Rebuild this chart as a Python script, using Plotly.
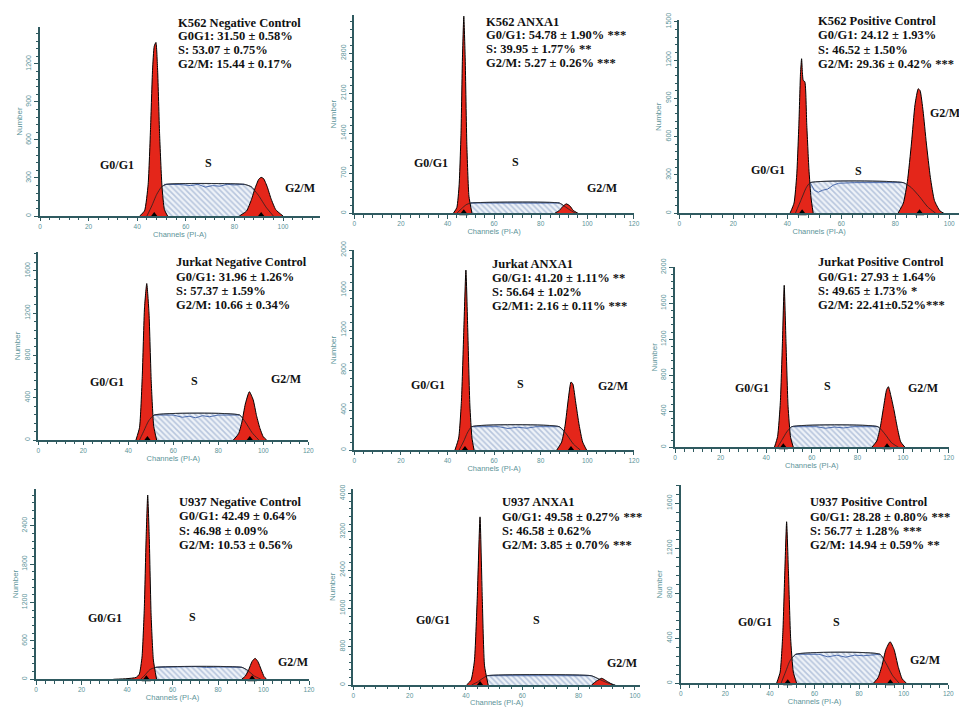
import plotly.graph_objects as go

W, H = 959, 707

# ---------------- data ----------------
PANEL_TEXT = [
    ["K562 Negative Control", "G0G1: 31.50 ± 0.58%", "S: 53.07 ± 0.75%", "G2/M: 15.44 ± 0.17%"],
    ["K562 ANXA1", "G0/G1: 54.78 ± 1.90% ***", "S: 39.95 ± 1.77% **", "G2/M: 5.27 ± 0.26% ***"],
    ["K562 Positive Control", "G0/G1: 24.12 ± 1.93%", "S: 46.52 ± 1.50%", "G2/M: 29.36 ± 0.42% ***"],
    ["Jurkat Negative Control", "G0/G1: 31.96 ± 1.26%", "S: 57.37 ± 1.59%", "G2/M: 10.66 ± 0.34%"],
    ["Jurkat ANXA1", "G0/G1: 41.20 ± 1.11% **", "S: 56.64 ± 1.02%", "G2/M1: 2.16 ± 0.11% ***"],
    ["Jurkat Positive Control", "G0/G1: 27.93 ± 1.64%", "S: 49.65 ± 1.73% *", "G2/M: 22.41±0.52%***"],
    ["U937 Negative Control", "G0/G1: 42.49 ± 0.64%", "S: 46.98 ± 0.09%", "G2/M: 10.53 ± 0.56%"],
    ["U937 ANXA1", "G0/G1: 49.58 ± 0.27% ***", "S: 46.58 ± 0.62%", "G2/M: 3.85 ± 0.70% ***"],
    ["U937 Positive Control", "G0/G1: 28.28 ± 0.80% ***", "S: 56.77 ± 1.28% ***", "G2/M: 14.94 ± 0.59% **"],
]
PHASE_LABELS = ["G0/G1", "S", "G2/M"]

G1_X = [
    [41, 43, 44.5, 45.5, 46.3, 47, 47.7, 48.4, 49.2, 50.2, 51.2, 52.5],
    [42.5, 44, 45, 45.8, 46.4, 47, 47.6, 48.3, 49.2, 50.5],
    [41, 42.5, 43.5, 44.3, 44.9, 45.3, 45.6, 45.9, 46.5, 47.2, 48, 48.8, 49.6],
    [43.4, 45, 46.2, 47.2, 48.2, 49.2, 50.2, 51.3, 52.6],
    [43.2, 44.8, 46, 47, 47.9, 48.7, 49.6, 50.5, 51.4],
    [43.6, 45, 46.2, 47.1, 47.9, 48.7, 49.6, 50.7, 51.9],
    [34, 40, 44, 45.4, 46.6, 47.6, 48.4, 49.1, 49.8, 50.6, 51.6, 53],
    [40.2, 41.8, 43, 44, 45, 45.8, 46.6, 47.9],
    [43, 44.6, 45.8, 46.7, 47.5, 48.3, 49.3, 50.5, 52],
]
G1_Y = [
    [0, 40, 250, 700, 1150, 1340, 1370, 1150, 650, 230, 50, 0],
    [0, 100, 500, 1400, 2700, 3450, 2700, 1200, 300, 0],
    [0, 80, 300, 700, 1100, 1210, 1100, 1040, 1030, 700, 350, 120, 0],
    [0, 120, 600, 1250, 1480, 1200, 550, 130, 0],
    [0, 120, 500, 1200, 1800, 1200, 450, 120, 0],
    [0, 120, 500, 1150, 1800, 1150, 450, 110, 0],
    [0, 10, 30, 80, 350, 1100, 2200, 2880, 2200, 1000, 300, 0],
    [0, 100, 500, 1800, 3510, 1800, 400, 0],
    [0, 100, 450, 1000, 1436, 1000, 400, 100, 0],
]
S_X = [
    [44, 46, 48, 50, 52, 84, 87, 90, 93, 96],
    [44, 46, 48, 50, 88, 90, 92.5, 95],
    [43, 45, 47, 48.5, 83, 86, 89, 92, 95],
    [45, 47, 49, 51.5, 89.5, 92, 95, 98],
    [45, 47, 48.5, 50.4, 88, 91, 94, 97],
    [45, 47, 49, 51.2, 89, 92, 95, 98],
    [46, 48, 50, 52.7, 90.5, 93, 96, 99],
    [42, 44, 46, 47.6, 84.5, 87, 90, 93],
    [45, 47, 49, 51.6, 89.4, 92, 95, 98],
]
S_Y = [
    [0, 80, 170, 230, 250, 250, 230, 160, 70, 0],
    [0, 80, 150, 180, 180, 130, 60, 0],
    [0, 100, 200, 240, 240, 200, 130, 50, 0],
    [0, 90, 180, 236, 236, 170, 70, 0],
    [0, 90, 170, 233, 233, 160, 60, 0],
    [0, 85, 170, 229, 229, 150, 50, 0],
    [0, 70, 150, 187, 187, 140, 50, 0],
    [0, 60, 140, 194, 194, 130, 50, 0],
    [0, 100, 200, 258, 258, 180, 70, 0],
]
SDATA_X = [
    [51, 58, 62, 65, 68, 71, 74, 77, 80, 84],
    [50, 60, 70, 75, 80, 88],
    [48.5, 50, 51.5, 53, 55, 57, 59, 65, 83],
    [51.5, 60, 64, 67, 70, 73, 76, 80, 89.5],
    [50.4, 62, 66, 70, 74, 78, 88],
    [51.2, 62, 66, 70, 74, 78, 89],
    [52.7, 65, 70, 75, 80, 90.5],
    [47.6, 60, 70, 80, 84.5],
    [51.6, 62, 66, 70, 74, 78, 82, 89.4],
]
SDATA_Y = [
    [250, 248, 240, 250, 228, 240, 235, 250, 245, 250],
    [180, 175, 180, 170, 178, 180],
    [240, 180, 165, 180, 190, 220, 235, 240, 240],
    [236, 236, 215, 225, 210, 230, 220, 236, 236],
    [233, 233, 215, 228, 218, 233, 233],
    [229, 229, 212, 225, 215, 229, 229],
    [187, 190, 198, 185, 192, 187],
    [194, 190, 196, 188, 194],
    [258, 258, 235, 250, 232, 250, 245, 258],
]
G2_X = [
    [82, 85, 87, 88.5, 90, 91, 92, 93.5, 95, 97, 100],
    [86, 88, 89.5, 91, 92.5, 94, 96],
    [81, 83, 84.5, 86, 87.3, 88.5, 89.2, 90.3, 91.5, 93, 94.5, 96.5, 98],
    [86.7, 89, 90.5, 92, 93.8, 95.5, 97, 98.5, 100, 101.5],
    [86.9, 89, 90.5, 91.8, 93, 93.8, 95, 96.5, 98, 99.7],
    [86.3, 88.5, 90, 91.5, 92.8, 93.6, 94.8, 96, 97.5, 99, 100.9],
    [90.4, 92, 93.5, 95, 96.3, 97.5, 99, 100.3, 101.4],
    [84.6, 86.3, 88.2, 90, 92.3],
    [86.4, 88.5, 90.3, 92, 93.9, 95.7, 97.5, 99.3, 101.3],
]
G2_Y = [
    [0, 40, 130, 220, 290, 305, 295, 230, 140, 50, 0],
    [0, 50, 120, 165, 130, 50, 0],
    [0, 80, 250, 550, 850, 975, 960, 800, 550, 280, 100, 20, 0],
    [0, 60, 170, 340, 457, 380, 230, 110, 30, 0],
    [0, 80, 250, 500, 680, 660, 480, 250, 80, 0],
    [0, 70, 220, 450, 640, 673, 560, 420, 220, 60, 0],
    [0, 50, 150, 280, 328, 280, 150, 40, 0],
    [0, 80, 140, 80, 0],
    [0, 50, 160, 300, 370, 300, 150, 40, 0],
]
G1_MEAN = [47, 47, 45.5, 48.5, 47.5, 47.5, 48.5, 45, 48]
G2_MEAN = [91, None, 89, 94, 93, 93, 95, None, 94]

X_MAX = [115, 120, 103.6, 120, 120, 120, 120, 101.8, 120]
Y_MAX = [1490, 3470, 1510, 1780, 2000, 2000, 2980, 4100, 1760]
Y_DTICK = [300, 700, 300, 400, 400, 400, 600, 800, 400]

# ---------------- layout geometry (pixels) ----------------
BOXES = [  # left, right, bottom(axis), top
    (40, 319.5, 216, 27.2),
    (354.3, 633.9, 213.3, 15),
    (679.3, 959, 213.3, 20.4),
    (38.3, 308.3, 440, 251.8),
    (354.3, 633.9, 450, 250),
    (675, 948.6, 447.3, 267.3),
    (36, 309, 679.3, 488.6),
    (353.3, 640, 685, 488.6),
    (680.7, 948.3, 683.3, 485.3),
]
TEXT_POS = [
    (176, [22.7, 36.5, 50.5, 64.5]),
    (484.3, [21.7, 35.3, 49.3, 63.3]),
    (815.7, [21.3, 35.3, 49.7, 63.7]),
    (174.3, [262.3, 276.7, 290.7, 305]),
    (490, [264.3, 278.3, 292.3, 306]),
    (816, [262.3, 276.7, 290.7, 305]),
    (176.7, [502.3, 516.3, 530.7, 544.5]),
    (500, [502.3, 516.7, 530.7, 545]),
    (808.3, [502.3, 516.7, 530.7, 545]),
]
PHASE_POS = [
    [(117, 165), (208, 163), (300, 188)],
    [(430.5, 163), (515, 162), (601.7, 188)],
    [(767.5, 170), (858.3, 171), (945, 113)],
    [(107, 381.7), (194.3, 381), (286, 379)],
    [(427.5, 385), (520, 384), (613, 386)],
    [(751.7, 388), (827.3, 386), (923, 388)],
    [(105, 618), (192.7, 617), (293, 662)],
    [(432.5, 620), (536.7, 620), (622, 663)],
    [(755, 622), (836.7, 622), (925, 660)],
]

AX = "#2f5a60"
TL = "#5c9499"
RED = "#e4261a"
SERIF = "Liberation Serif, Times New Roman, serif"
SANS = "Liberation Sans, Arial, sans-serif"

fig = go.Figure()

for i in range(9):
    xa = "x" if i == 0 else f"x{i+1}"
    ya = "y" if i == 0 else f"y{i+1}"
    xname = "xaxis" if i == 0 else f"xaxis{i+1}"
    yname = "yaxis" if i == 0 else f"yaxis{i+1}"
    l, r, b, t = BOXES[i]

    # S phase (hatched)
    fig.add_trace(go.Scatter(
        x=S_X[i], y=S_Y[i], xaxis=xa, yaxis=ya, mode="lines",
        line=dict(color="#4f5f7c", width=0.9, shape="spline", smoothing=0.5),
        fill="tozeroy", fillcolor="#eef2f8",
        fillpattern=dict(shape="\\", fgcolor="#8098c2", bgcolor="#eef2f8", size=4, solidity=0.4),
        hoverinfo="skip"))
    # measured data across S
    fig.add_trace(go.Scatter(
        x=SDATA_X[i], y=SDATA_Y[i], xaxis=xa, yaxis=ya, mode="lines",
        line=dict(color="#3b5ea6", width=0.9), hoverinfo="skip"))
    # G0/G1 peak
    fig.add_trace(go.Scatter(
        x=G1_X[i], y=G1_Y[i], xaxis=xa, yaxis=ya, mode="lines",
        line=dict(color="black", width=1, shape="spline", smoothing=0.5),
        fill="tozeroy", fillcolor=RED, hoverinfo="skip"))
    # G2/M peak
    fig.add_trace(go.Scatter(
        x=G2_X[i], y=G2_Y[i], xaxis=xa, yaxis=ya, mode="lines",
        line=dict(color="black", width=1, shape="spline", smoothing=0.5),
        fill="tozeroy", fillcolor=RED, hoverinfo="skip"))
    # S component outline over the peaks
    fig.add_trace(go.Scatter(
        x=S_X[i], y=S_Y[i], xaxis=xa, yaxis=ya, mode="lines",
        line=dict(color="#222222", width=0.8, shape="spline", smoothing=0.5),
        hoverinfo="skip"))
    # peak mean markers
    mx = [m for m in (G1_MEAN[i], G2_MEAN[i]) if m is not None]
    fig.add_trace(go.Scatter(
        x=mx, y=[0] * len(mx), xaxis=xa, yaxis=ya, mode="markers",
        marker=dict(symbol="triangle-up", size=8, color="black"),
        cliponaxis=False, hoverinfo="skip"))

    fig.layout[xname] = dict(
        domain=[l / W, min(r / W, 1)], range=[0, X_MAX[i]], anchor=ya,
        showline=True, linecolor=AX, linewidth=1.5,
        ticks="outside", ticklen=3.5, tickwidth=1.2, tickcolor=AX,
        tickmode="linear", tick0=0, dtick=20,
        minor=dict(dtick=4, ticks="outside", ticklen=2.5, tickcolor=AX, tickwidth=1),
        tickfont=dict(size=6.5, color=TL, family=SANS),
        showgrid=False, zeroline=False, automargin=False, fixedrange=True,
        title=dict(text="Channels (PI-A)", font=dict(size=7.5, color=TL, family=SANS), standoff=1))
    fig.layout[yname] = dict(
        domain=[1 - b / H, 1 - t / H], range=[0, Y_MAX[i]], anchor=xa,
        showline=True, linecolor=AX, linewidth=1.5,
        ticks="outside", ticklen=4, tickwidth=1.2, tickcolor=AX,
        tickmode="linear", tick0=0, dtick=Y_DTICK[i],
        minor=dict(dtick=Y_DTICK[i] / 5, ticks="outside", ticklen=2.5, tickcolor=AX, tickwidth=1),
        tickangle=-90,
        tickfont=dict(size=7, color=TL, family=SANS),
        showgrid=False, zeroline=False, automargin=False, fixedrange=True,
        title=dict(text="Number", font=dict(size=8, color=TL, family=SANS), standoff=2))

annotations = []
for i in range(9):
    tx, tys = TEXT_POS[i]
    for line, ty in zip(PANEL_TEXT[i], tys):
        annotations.append(dict(
            x=tx / W, y=1 - ty / H, xref="paper", yref="paper",
            xanchor="left", yanchor="middle", showarrow=False,
            text=f"<b>{line}</b>", font=dict(size=12.5, color="#111111", family=SERIF)))
    for lab, (px, py) in zip(PHASE_LABELS, PHASE_POS[i]):
        annotations.append(dict(
            x=px / W, y=1 - py / H, xref="paper", yref="paper",
            xanchor="center", yanchor="middle", showarrow=False,
            text=f"<b>{lab}</b>", font=dict(size=12, color="#111111", family=SERIF)))

fig.update_layout(
    width=W, height=H, margin=dict(l=0, r=0, t=0, b=0),
    paper_bgcolor="white", plot_bgcolor="white",
    showlegend=False, annotations=annotations)

fig.write_html("out.html", config={"displayModeBar": False},
               post_script="document.body.style.margin='0px';")
